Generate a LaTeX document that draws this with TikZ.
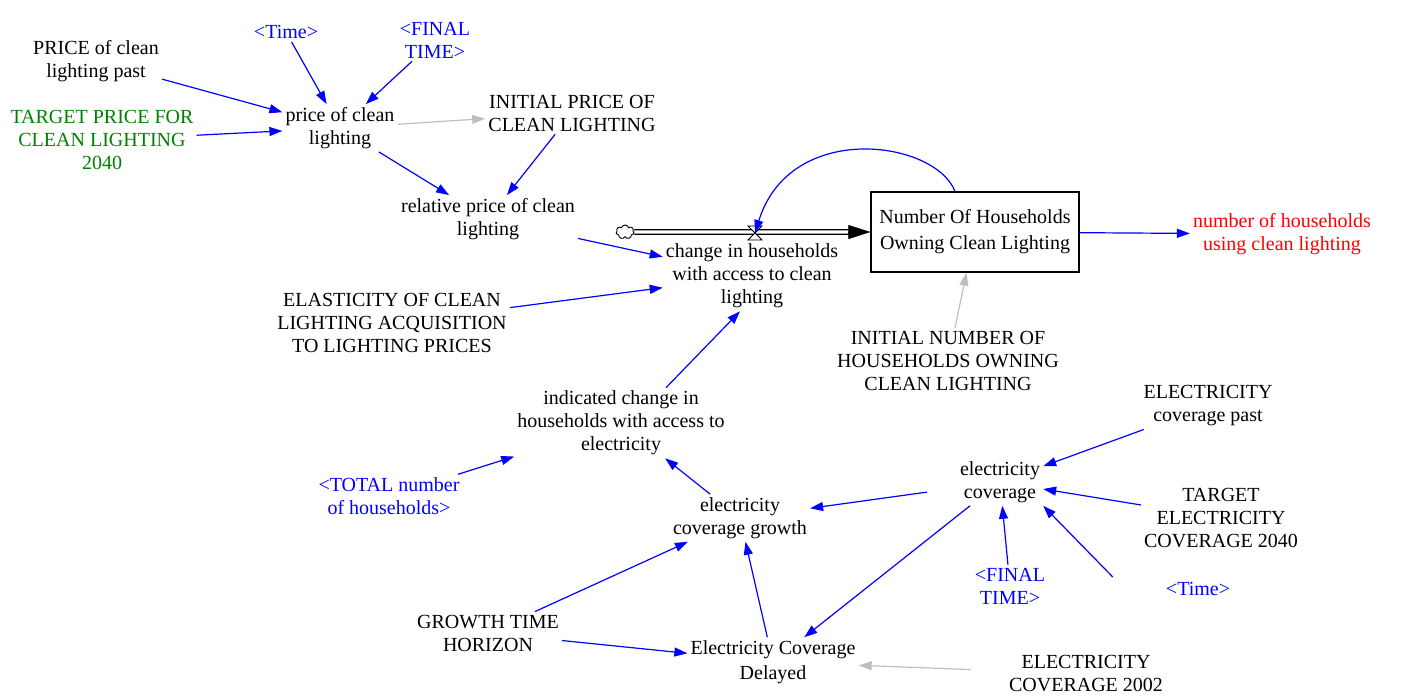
\documentclass[tikz,border=0pt]{standalone}
\usepackage{fontspec}
\setmainfont{Liberation Serif}
\usetikzlibrary{arrows.meta,calc,shapes.symbols}
\definecolor{vblue}{RGB}{0,0,255}
\definecolor{vgreen}{RGB}{0,128,0}
\definecolor{vred}{RGB}{255,0,0}
\definecolor{vgray}{RGB}{190,190,190}
\begin{document}
\begin{tikzpicture}[x=1pt,y=-1pt,
  lbl/.style={align=center, font=\fontsize{20}{23}\selectfont, inner sep=3pt},
  lbltall/.style={align=center, font=\fontsize{20}{25}\selectfont, inner sep=3pt},
  lnk/.style={color=vblue, line width=1.2pt, -{Triangle[length=13pt,width=9pt]}},
  glnk/.style={lnk, color=vgray},
  shadow/.style={lbl, text=vblue}]
\useasboundingbox (0,0) rectangle (1408,699);

% variables
\node[lbl] (past) at (96,61) {PRICE of clean\\lighting past};
\node[lbl, text=vgreen] (tgtp) at (102,140) {TARGET PRICE FOR\\CLEAN LIGHTING\\2040};
\node[shadow] (time1) at (286,32) {<Time>};
\node[shadow] (ft1) at (435,40) {<FINAL\\TIME>};
\node[lbl] (price) at (340,128) {price of clean\\lighting};
\node[lbl] (initp) at (572,113) {INITIAL PRICE OF\\CLEAN LIGHTING};
\node[lbl] (rel) at (488,219) {relative price of clean\\lighting};
\node[lbl] (chg) at (752,276) {change in households\\with access to clean\\lighting};
\node[draw, line width=1.2pt, minimum width=208pt, minimum height=80pt, align=center,
      font=\fontsize{20}{26}\selectfont, inner sep=0pt] (box) at (975,232)
      {Number Of Households\\Owning Clean Lighting};
\node[lbl, text=vred] (using) at (1282,234) {number of households\\using clean lighting};
\node[lbl] (elas) at (392,323) {ELASTICITY OF CLEAN\\LIGHTING ACQUISITION\\TO LIGHTING PRICES};
\node[lbl] (initn) at (948,361) {INITIAL NUMBER OF\\HOUSEHOLDS OWNING\\CLEAN LIGHTING};
\node[lbl] (ind) at (621,423) {indicated change in\\households with access to\\electricity};
\node[shadow] (total) at (389,496) {<TOTAL number\\of households>};
\node[lbl] (growth) at (740,518) {electricity\\coverage growth};
\node[lbl] (cov) at (1000,482) {electricity\\coverage};
\node[lbl] (covpast) at (1208,406) {ELECTRICITY\\coverage past};
\node[lbl] (tgtc) at (1221,518) {TARGET\\ELECTRICITY\\COVERAGE 2040};
\node[shadow] (ft2) at (1010,586) {<FINAL\\TIME>};
\node[shadow] (time2) at (1198,589) {<Time>};
\node[lbl] (gth) at (488,633) {GROWTH TIME\\HORIZON};
\node[lbltall] (del) at (773,662) {Electricity Coverage\\Delayed};
\node[lbl] (c2002) at (1086,674) {ELECTRICITY\\COVERAGE 2002};

% flow
\node[cloud, draw, cloud puffs=7, aspect=1.3, minimum width=18pt, minimum height=14pt,
      inner sep=0pt, line width=0.9pt] (cloud) at (625,232) {};
\draw[line width=1.2pt, double=white, double distance=3.2pt, shorten >=20pt] (cloud.east) -- (box.west);
\draw[-{Triangle[length=22pt,width=14pt]}, black, line width=0.5pt] ($(box.west)+(-22,0)$) -- (box.west);
\coordinate (valve) at (755,233);
\draw[fill=white, line width=0.8pt] ($(valve)+(-7,-7)$) -- ++(14,0) -- ++(-14,14) -- ++(14,0) -- cycle;

% links
\draw[lnk] (past) -- (price);
\draw[lnk] (tgtp) -- (price);
\draw[lnk] (time1) -- (price);
\draw[lnk] (ft1) -- (price);
\draw[glnk] (price) -- (initp);
\draw[lnk] (price) -- (rel);
\draw[lnk] (initp) -- (rel);
\draw[lnk] (rel) -- (chg);
\draw[lnk] (elas) -- (chg);
\draw[lnk] ([xshift=45pt]ind.north) -- ([xshift=-12pt]chg.south);
\draw[lnk] (total) -- (ind);
\draw[lnk] (growth) -- (ind);
\draw[lnk] (gth) -- (growth);
\draw[lnk] (gth) -- (del);
\draw[lnk] (del) -- (growth);
\draw[lnk, shorten <=30pt] (cov) -- (growth);
\draw[lnk] (cov) -- (del);
\draw[lnk] (covpast) -- (cov);
\draw[lnk] (tgtc) -- (cov);
\draw[lnk] (ft2) -- (cov);
\draw[lnk] ($(time2.west)+(-50,-12)$) -- (cov.south east);
\draw[glnk, shorten <=35pt] (c2002) -- (del);
\draw[glnk] (initn) -- (box);
\draw[lnk] (box) -- (using);
\draw[lnk] ([xshift=-20pt]box.north) .. controls (935,140) and (790,120) .. (valve);
\end{tikzpicture}
\end{document}
